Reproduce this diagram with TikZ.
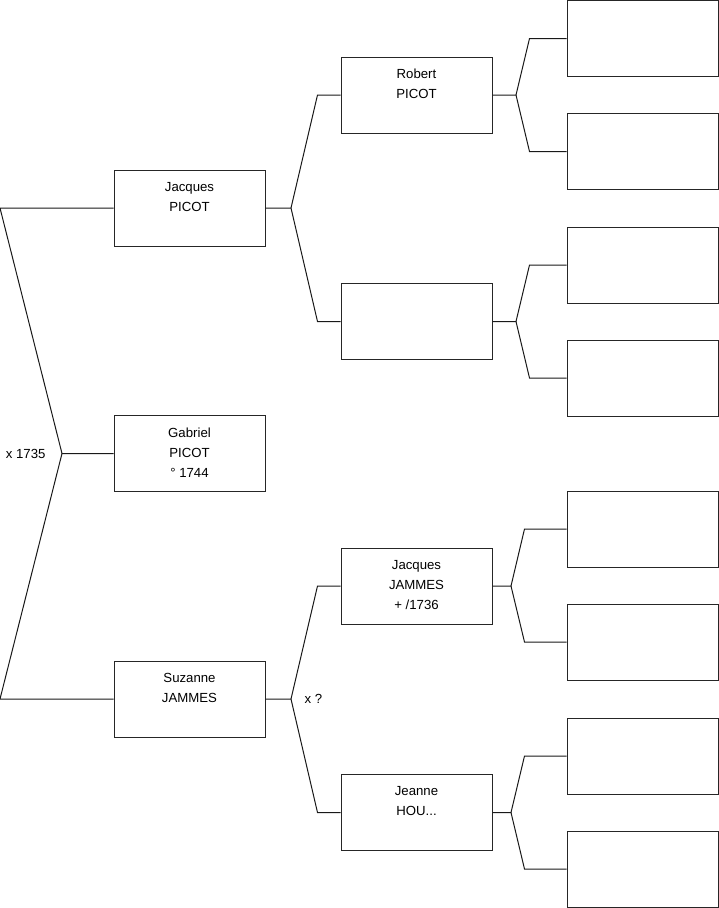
\documentclass[tikz,border=0pt]{standalone}
\usepackage{fontspec}
\setmainfont{Liberation Sans}
\usetikzlibrary{positioning}

\begin{document}
\begin{tikzpicture}[x=1pt, y=-1pt, line width=1pt]
% Node styles
\tikzstyle{person} = [rectangle, minimum width=151pt, minimum height=76pt, draw=black!85, inner sep=0pt]
\tikzstyle{names} = [anchor=north, align=center, inner sep=0pt, yshift=-12pt, font=\fontsize{13.2}{20}\selectfont]
\tikzstyle{link} = [draw=black!90, line width=1pt]
\tikzstyle{mariage} = [inner sep=0pt, font=\fontsize{13.2}{15}\selectfont]

\useasboundingbox (0,0) rectangle (719,908);
\coordinate (o) at (0,0);

% Generation 1 and 2
\node [person, label={[names]north:{Jacques\\PICOT}}] (jacques) at (189.5,208) {};
\node [person, label={[names]north:{Gabriel\\PICOT\\° 1744}}] (gabriel) at (189.5,453.5) {};
\node [person, label={[names]north:{Suzanne\\JAMMES}}] (suzanne) at (189.5,699) {};

% Generation 3
\node [person, label={[names]north:{Robert\\PICOT}}] (robert) at (416.5,95) {};
\node [person] (picotmere) at (416.5,321.5) {};
\node [person, label={[names]north:{Jacques\\JAMMES\\+ /1736}}] (jjammes) at (416.5,586) {};
\node [person, label={[names]north:{Jeanne\\HOU...}}] (jeanne) at (416.5,812.5) {};

% Generation 4
\node [person] (rob1) at (642.5,38.5) {};
\node [person] (rob2) at (642.5,151.5) {};
\node [person] (pm1) at (642.5,265) {};
\node [person] (pm2) at (642.5,378) {};
\node [person] (jj1) at (642.5,529) {};
\node [person] (jj2) at (642.5,642) {};
\node [person] (jea1) at (642.5,756) {};
\node [person] (jea2) at (642.5,869) {};

% Junctions
\coordinate (jG) at (62,453.5);
\coordinate (jP) at (291,208);
\coordinate (jS) at (291,699);
\coordinate (jR) at (516,95);
\coordinate (jM) at (516,321.5);
\coordinate (jJ) at (511,586);
\coordinate (jE) at (511,812.5);

% Links
\draw [link] (gabriel.west) -- (jG) -- (jacques.west -| o) -- (jacques.west);
\draw [link] (jG) -- (suzanne.west -| o) -- (suzanne.west);
\draw [link] (jacques.east) -- (jP) -- ([xshift=-23pt]robert.west) -- (robert.west);
\draw [link] (jP) -- ([xshift=-23pt]picotmere.west) -- (picotmere.west);
\draw [link] (suzanne.east) -- (jS) -- ([xshift=-23pt]jjammes.west) -- (jjammes.west);
\draw [link] (jS) -- ([xshift=-23pt]jeanne.west) -- (jeanne.west);
\draw [link] (robert.east) -- (jR) -- ([xshift=-37pt]rob1.west) -- (rob1.west);
\draw [link] (jR) -- ([xshift=-37pt]rob2.west) -- (rob2.west);
\draw [link] (picotmere.east) -- (jM) -- ([xshift=-37pt]pm1.west) -- (pm1.west);
\draw [link] (jM) -- ([xshift=-37pt]pm2.west) -- (pm2.west);
\draw [link] (jjammes.east) -- (jJ) -- ([xshift=-42pt]jj1.west) -- (jj1.west);
\draw [link] (jJ) -- ([xshift=-42pt]jj2.west) -- (jj2.west);
\draw [link] (jeanne.east) -- (jE) -- ([xshift=-42pt]jea1.west) -- (jea1.west);
\draw [link] (jE) -- ([xshift=-42pt]jea2.west) -- (jea2.west);

% Mariages
\node [mariage, left=16pt of jG] (mar1) {x 1735};
\node [mariage, right=13pt of jS] (mar2) {x ?};
\end{tikzpicture}
\end{document}
